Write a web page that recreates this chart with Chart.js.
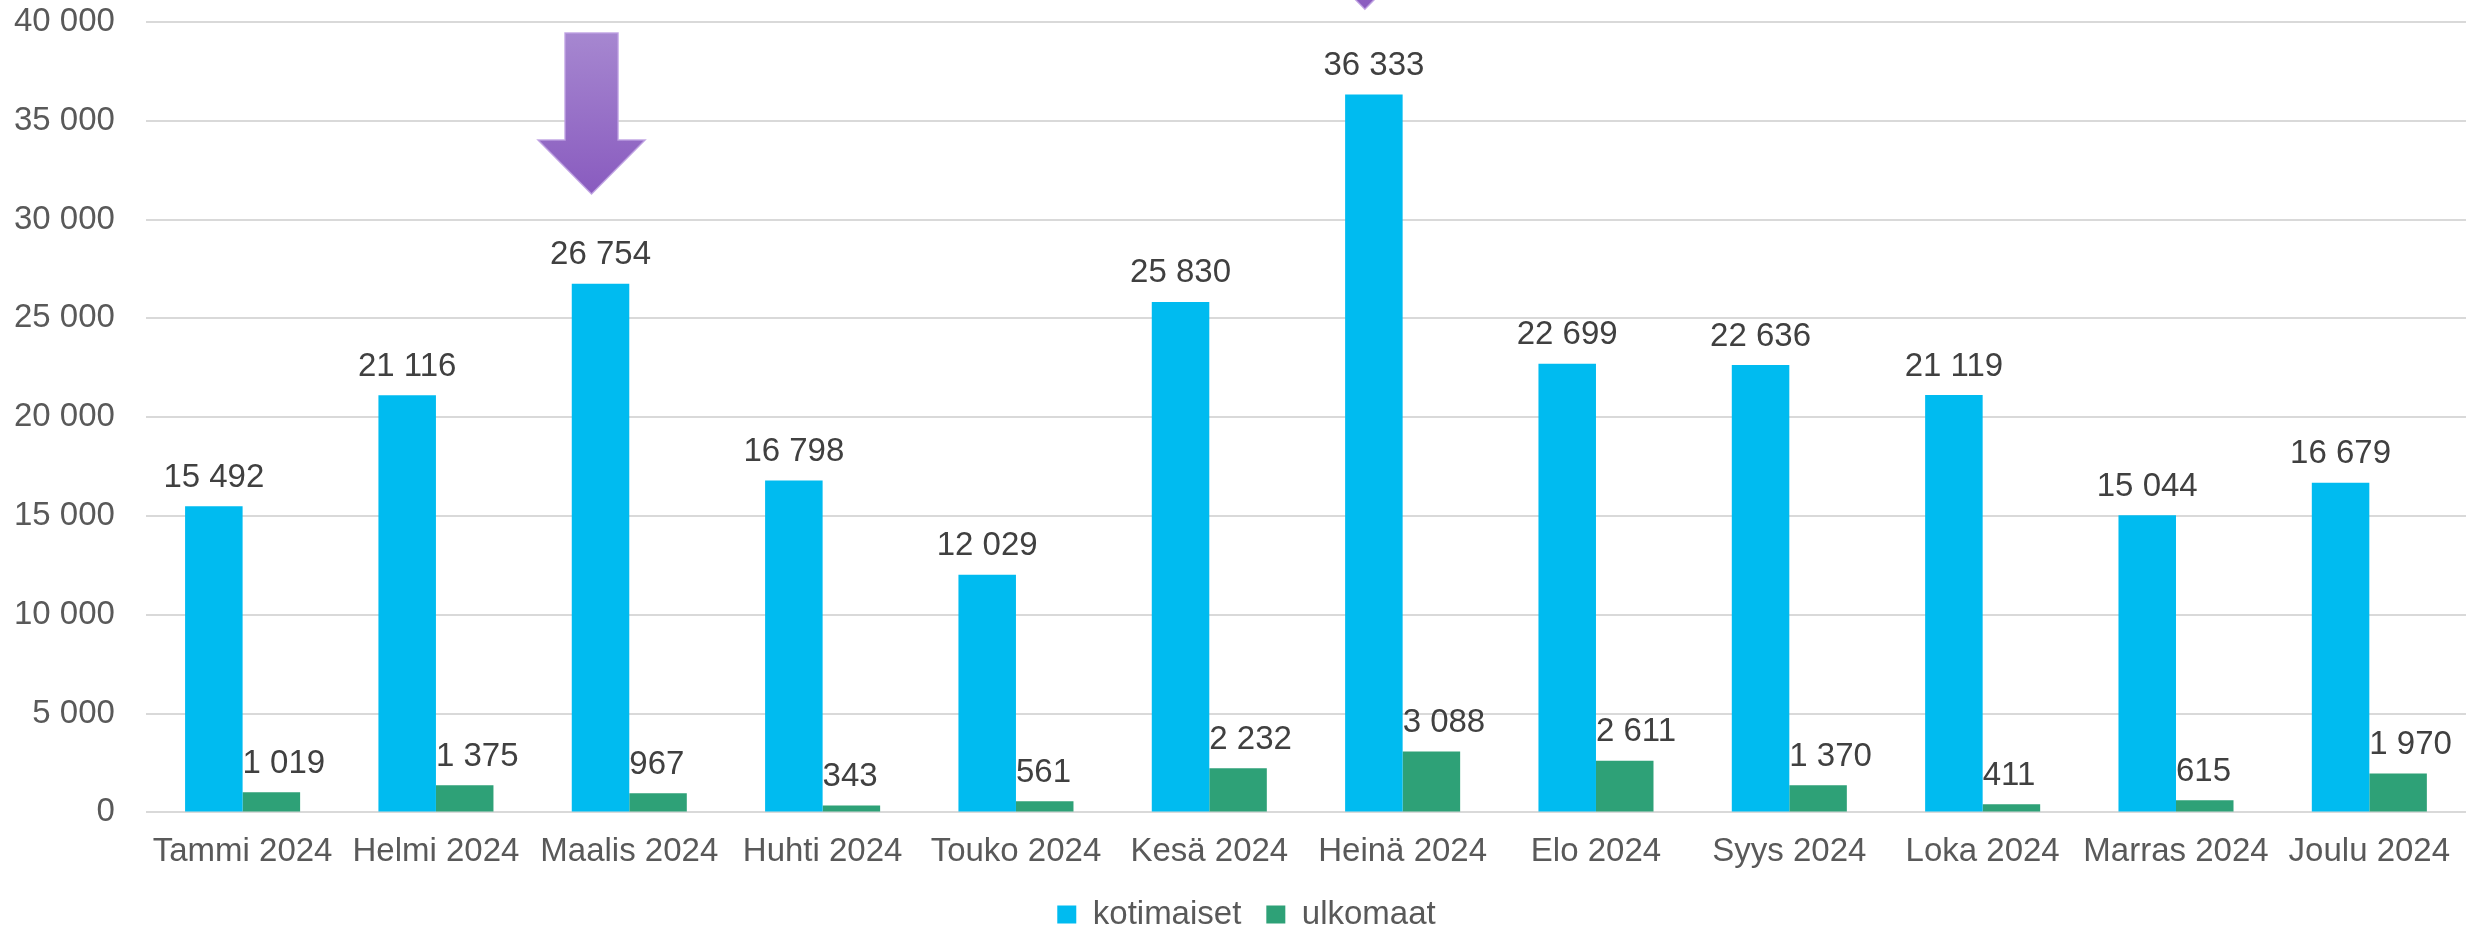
<!DOCTYPE html>
<html>
<head>
<meta charset="utf-8">
<script src="https://cdn.jsdelivr.net/npm/chart.js@4.4.1/dist/chart.umd.min.js"></script>
<style>
  html, body { margin: 0; padding: 0; background: #fff; }
</style>
</head>
<body>
<canvas id="chart" width="2471" height="926"></canvas>
<script>
const months = ['Tammi 2024', 'Helmi 2024', 'Maalis 2024', 'Huhti 2024', 'Touko 2024', 'Kesä 2024',
  'Heinä 2024', 'Elo 2024', 'Syys 2024', 'Loka 2024', 'Marras 2024', 'Joulu 2024'];
const kotimaiset = [15492, 21116, 26754, 16798, 12029, 25830, 36333, 22699, 22636, 21119, 15044, 16679];
const ulkomaat = [1019, 1375, 967, 343, 561, 2232, 3088, 2611, 1370, 411, 615, 1970];
const yTicks = [0, 5000, 10000, 15000, 20000, 25000, 30000, 35000, 40000];

// nuolet: mihin kuukauteen ja mihin arvoon kärki osuu
const arrowMonths = ['Maalis 2024', 'Heinä 2024'];
const arrowTips = [31300, 40650];

const FONT = '"Liberation Sans", Arial, sans-serif';

function fmt(v) {
  return String(v).replace(/\B(?=(\d{3})+(?!\d))/g, ' ');
}

// arvot palkkien päälle
const valueLabels = {
  id: 'valueLabels',
  afterDatasetsDraw(chart) {
    const ctx = chart.ctx;
    ctx.save();
    ctx.font = '33px ' + FONT;
    ctx.fillStyle = '#404040';
    ctx.textBaseline = 'alphabetic';
    chart.data.datasets.forEach((ds, i) => {
      chart.getDatasetMeta(i).data.forEach((bar, j) => {
        const text = fmt(ds.data[j]);
        if (i === 0) {
          ctx.textAlign = 'center';
          ctx.fillText(text, bar.x, bar.y - 19.5);
        } else {
          ctx.textAlign = 'left';
          ctx.fillText(text, bar.x - bar.width / 2, bar.y - 19.5);
        }
      });
    });
    ctx.restore();
  }
};

const arrows = {
  id: 'arrows',
  afterDraw(chart) {
    const ctx = chart.ctx;
    const y = chart.scales.y;
    const meta = chart.getDatasetMeta(0);
    ctx.save();
    arrowMonths.forEach((m, k) => {
      const bar = meta.data[months.indexOf(m)];
      const cx = bar.x - 9;
      const tip = y.getPixelForValue(arrowTips[k]);
      const top = tip - 161, base = tip - 54;
      const g = ctx.createLinearGradient(0, top, 0, tip);
      g.addColorStop(0, '#a687d0');
      g.addColorStop(1, '#895bbf');
      ctx.beginPath();
      ctx.moveTo(cx - 26.5, top);
      ctx.lineTo(cx + 26.5, top);
      ctx.lineTo(cx + 26.5, base);
      ctx.lineTo(cx + 53.5, base);
      ctx.lineTo(cx, tip);
      ctx.lineTo(cx - 53.5, base);
      ctx.lineTo(cx - 26.5, base);
      ctx.closePath();
      ctx.fillStyle = g;
      ctx.fill();
      ctx.strokeStyle = 'rgba(190, 160, 225, 0.9)';
      ctx.lineWidth = 1.5;
      ctx.stroke();
    });
    ctx.restore();
  }
};

// selite hieman oikealle ja ylös
const legendNudge = {
  id: 'legendNudge',
  afterLayout(chart) {
    const l = chart.legend;
    l.left += 22; l.right += 22;
    l.top -= 11; l.bottom -= 11;
  }
};

new Chart(document.getElementById('chart'), {
  type: 'bar',
  data: {
    labels: months,
    datasets: [
      { label: 'kotimaiset', data: kotimaiset, backgroundColor: '#00bbf0' },
      { label: 'ulkomaat', data: ulkomaat, backgroundColor: '#2ea177' },
    ],
  },
  options: {
    responsive: false,
    animation: false,
    layout: { padding: { left: -17, right: 5, top: 22, bottom: -26 } },
    datasets: {
      bar: { categoryPercentage: 0.595, barPercentage: 1.0, borderWidth: 0 },
    },
    scales: {
      x: {
        grid: { display: false },
        border: { display: false },
        ticks: { color: '#595959', font: { family: FONT, size: 33 }, padding: 12, maxRotation: 0, autoSkip: false },
      },
      y: {
        min: 0,
        max: 40000,
        afterBuildTicks: (axis) => { axis.ticks = yTicks.map((v) => ({ value: v })); },
        afterFit: (axis) => { axis.paddingTop = 0; axis.paddingBottom = 0; },
        grid: { color: '#d9d9d9', lineWidth: 2, drawTicks: false },
        border: { display: false },
        ticks: { color: '#595959', font: { family: FONT, size: 33 }, padding: 31, callback: (v) => fmt(v) },
      },
    },
    plugins: {
      legend: {
        position: 'bottom',
        labels: { color: '#595959', font: { family: FONT, size: 33 }, boxWidth: 19, boxHeight: 18, padding: 25 },
      },
      tooltip: { enabled: false },
    },
  },
  plugins: [valueLabels, arrows, legendNudge],
});
</script>
</body>
</html>
